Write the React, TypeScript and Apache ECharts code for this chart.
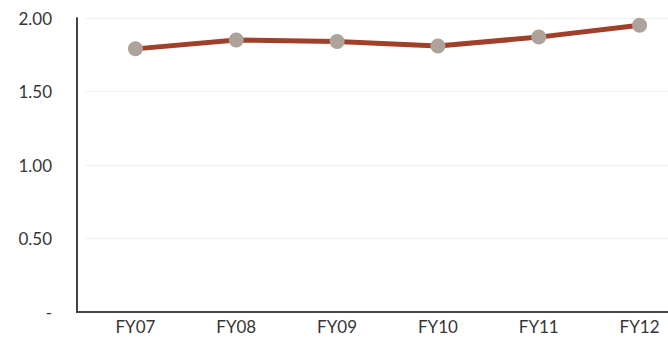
import React, { useEffect, useRef } from "react";
import * as echarts from "echarts";

const categories = ["FY07", "FY08", "FY09", "FY10", "FY11", "FY12"];
const values = [1.79, 1.85, 1.84, 1.81, 1.87, 1.95];
const yTicks = { min: 0, max: 2, interval: 0.5 };

const FONT = "'Lato', 'Open Sans', sans-serif";

export default function App() {
  const ref = useRef<HTMLDivElement>(null);

  useEffect(() => {
    if (!ref.current) return;
    const chart = echarts.init(ref.current, undefined, { renderer: "svg" });
    chart.setOption({
      animation: false,
      backgroundColor: "#ffffff",
      // the plot runs on past the right edge of the visible window
      grid: { left: 85, right: 0, top: 18, bottom: 27, containLabel: false },
      xAxis: {
        type: "category",
        data: categories,
        boundaryGap: true,
        axisLine: { show: true, lineStyle: { color: "#444444", width: 2 } },
        axisTick: { show: false },
        axisLabel: { color: "#363636", fontSize: 17, fontFamily: FONT, margin: 6 },
        splitLine: { show: false },
      },
      yAxis: {
        type: "value",
        min: yTicks.min,
        max: yTicks.max,
        interval: yTicks.interval,
        offset: 8,
        axisLine: { show: true, lineStyle: { color: "#444444", width: 2 } },
        axisTick: { show: false },
        axisLabel: {
          color: "#363636",
          fontSize: 17,
          fontFamily: FONT,
          margin: 25,
          formatter: (v: number) => (v === 0 ? "-" : v.toFixed(2)),
        },
        splitLine: { show: true, lineStyle: { color: "#f2f2f2", width: 1 } },
      },
      graphic: [
        {
          type: "line",
          shape: { x1: 76, y1: 312, x2: 86, y2: 312 },
          style: { stroke: "#444444", lineWidth: 2 },
          silent: true,
        },
      ],
      series: [
        {
          type: "line",
          data: values,
          symbol: "circle",
          symbolSize: 15,
          lineStyle: { color: "#a0402b", width: 5 },
          itemStyle: { color: "#aea39a" },
          z: 3,
        },
      ],
    });
    return () => chart.dispose();
  }, []);

  return (
    <div
      ref={ref}
      style={{ position: "fixed", left: 0, top: 0, width: 690, height: 339 }}
    />
  );
}
